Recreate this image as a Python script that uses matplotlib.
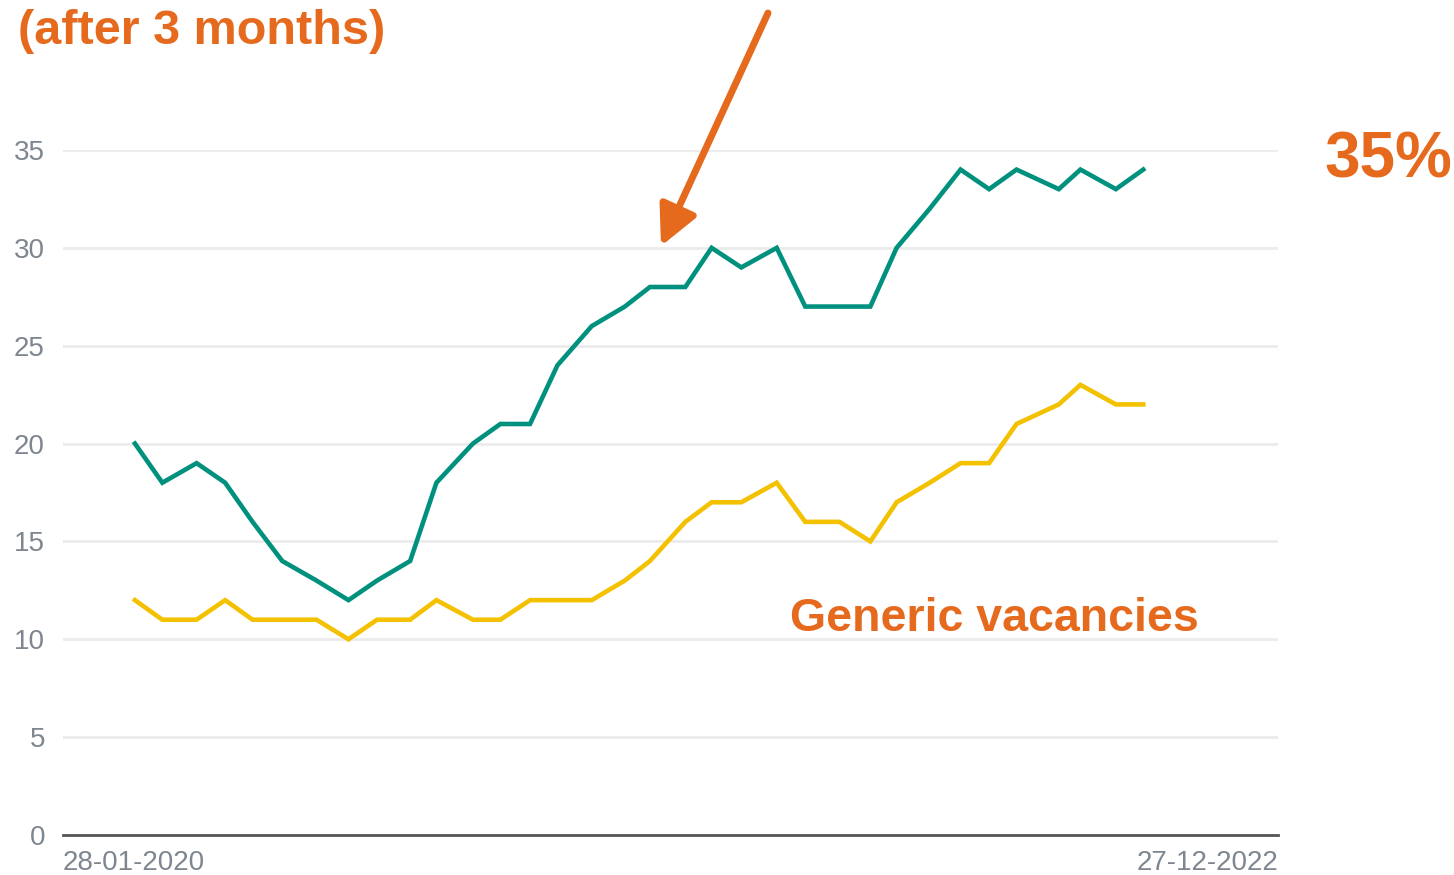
import pandas as pd
import matplotlib
matplotlib.use('Agg')
import matplotlib.pyplot as plt

plt.rcParams['font.family'] = ['Liberation Sans', 'DejaVu Sans']

# ==================== Data ====================
dates = ['2020-03-31', '2020-04-24', '2020-05-24', '2020-06-18', '2020-07-12',
         '2020-08-07', '2020-09-06', '2020-10-04', '2020-10-29', '2020-11-27',
         '2020-12-20', '2021-01-21', '2021-02-14', '2021-03-12', '2021-04-05',
         '2021-05-05', '2021-06-03', '2021-06-25', '2021-07-26', '2021-08-18',
         '2021-09-13', '2021-10-14', '2021-11-08', '2021-12-08', '2022-01-04',
         '2022-01-27', '2022-02-25', '2022-03-24', '2022-04-18', '2022-05-12',
         '2022-06-18', '2022-07-07', '2022-08-07', '2022-08-31']
teal_values = [20, 18, 19, 18, 16, 14, 13, 12, 13, 14,
               18, 20, 21, 21, 24, 26, 27, 28, 28, 30,
               29, 30, 27, 27, 27, 30, 32, 34, 33, 34,
               33, 34, 33, 34]
generic_values = [12, 11, 11, 12, 11, 11, 11, 10, 11, 11,
                  12, 11, 11, 12, 12, 12, 13, 14, 16, 17,
                  17, 18, 16, 16, 15, 17, 18, 19, 19, 21,
                  22, 23, 22, 22]
x_start, x_end = '2020-01-28', '2022-12-27'
y_ticks = [0, 5, 10, 15, 20, 25, 30, 35]

# ==================== Colours ====================
TEAL = '#00917E'
YELLOW = '#F4C100'
ORANGE = '#E66A1E'
TICK_GREY = '#7E8690'
GRID_GREY = '#EBEBEB'

x = pd.to_datetime(dates)

fig = plt.figure(figsize=(14.54, 8.75), dpi=100)
ax = fig.add_axes([63 / 1454, 40 / 875, 1215 / 1454, 685 / 875])

ax.plot(x, teal_values, color=TEAL, linewidth=3.3, solid_joinstyle='miter', zorder=3)
ax.plot(x, generic_values, color=YELLOW, linewidth=3.3, solid_joinstyle='miter', zorder=3)

ax.set_xlim(pd.Timestamp(x_start), pd.Timestamp(x_end))
ax.set_ylim(0, 35)

# axis style: only bottom spine, light horizontal grid
for side in ['top', 'right', 'left']:
    ax.spines[side].set_visible(False)
ax.spines['bottom'].set_color('#555555')
ax.spines['bottom'].set_linewidth(2)
ax.spines['bottom'].set_zorder(4)

ax.set_yticks(y_ticks)
ax.set_yticklabels([str(v) for v in y_ticks])
ax.yaxis.grid(True, color=GRID_GREY, linewidth=2)
ax.set_axisbelow(True)
ax.tick_params(axis='y', length=0, pad=13, labelsize=20, labelcolor=TICK_GREY)

ax.set_xticks([pd.Timestamp(x_start), pd.Timestamp(x_end)])
ax.set_xticklabels([pd.Timestamp(x_start).strftime('%d-%m-%Y'),
                    pd.Timestamp(x_end).strftime('%d-%m-%Y')])
ax.tick_params(axis='x', length=0, pad=11, labelsize=20, labelcolor=TICK_GREY)
xlabels = ax.get_xticklabels()
xlabels[0].set_horizontalalignment('left')
xlabels[1].set_horizontalalignment('right')

# ==================== Annotations ====================
fig.text(18 / 1454, 1 - 44 / 875, '(after 3 months)', color=ORANGE,
         fontsize=35, fontweight='bold', va='baseline', ha='left')
fig.text(1324 / 1454, 1 - 177 / 875, '35%', color=ORANGE,
         fontsize=46, fontweight='bold', va='baseline', ha='left')
fig.text(790 / 1454, 1 - 631 / 875, 'Generic vacancies', color=ORANGE,
         fontsize=33.5, fontweight='bold', va='baseline', ha='left')

ax.annotate('', xy=(661, 875 - 246), xycoords='figure pixels',
            xytext=(768, 875 - 13), textcoords='figure pixels',
            arrowprops=dict(arrowstyle='-|>,head_length=1.2,head_width=0.6',
                            mutation_scale=20, color=ORANGE, lw=5,
                            shrinkA=0, shrinkB=0),
            annotation_clip=False)

fig.savefig('out.png', dpi=100, facecolor='white')
